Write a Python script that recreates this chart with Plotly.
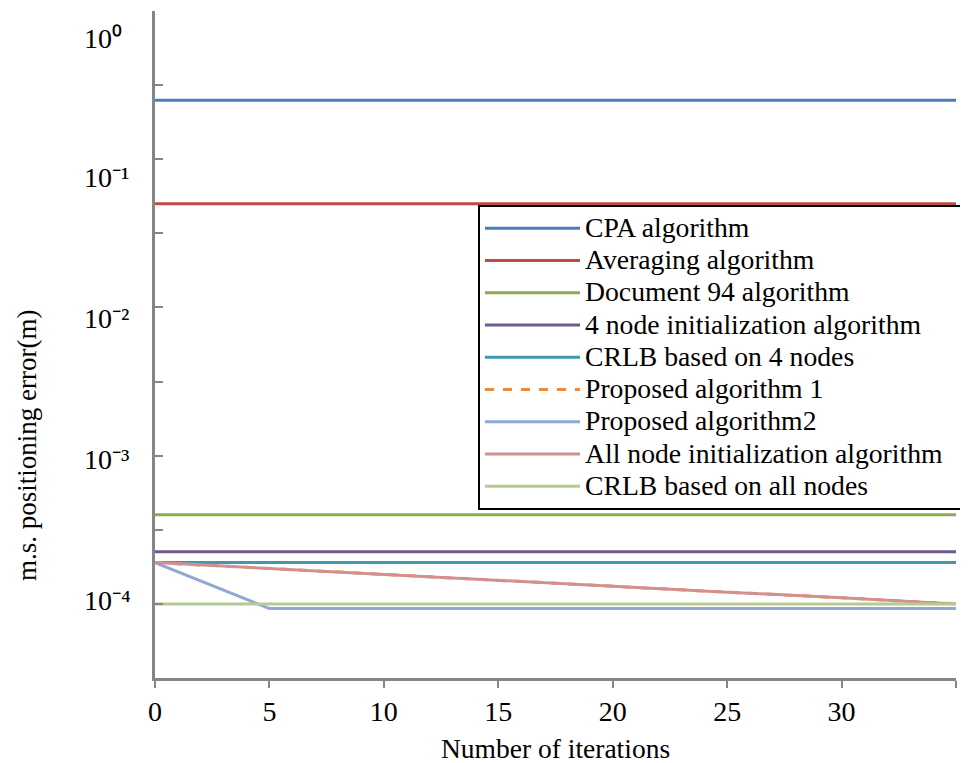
import plotly.graph_objects as go

# ---------------- data ----------------
iterations = [0, 5, 10, 15, 20, 25, 30, 35]

cpa = [0.25, 0.25, 0.25, 0.25, 0.25, 0.25, 0.25, 0.25]
averaging = [0.05, 0.05, 0.05, 0.05, 0.05, 0.05, 0.05, 0.05]
document94 = [4.0e-4, 4.0e-4, 4.0e-4, 4.0e-4, 4.0e-4, 4.0e-4, 4.0e-4, 4.0e-4]
node4_init = [2.25e-4, 2.25e-4, 2.25e-4, 2.25e-4, 2.25e-4, 2.25e-4, 2.25e-4, 2.25e-4]
crlb_4 = [1.9e-4, 1.9e-4, 1.9e-4, 1.9e-4, 1.9e-4, 1.9e-4, 1.9e-4, 1.9e-4]
proposed1 = [1.9e-4, 1.73e-4, 1.58e-4, 1.44e-4, 1.31e-4, 1.20e-4, 1.10e-4, 1.0e-4]
proposed2 = [1.9e-4, 9.3e-5, 9.3e-5, 9.3e-5, 9.3e-5, 9.3e-5, 9.3e-5, 9.3e-5]
allnode_init = [1.9e-4, 1.73e-4, 1.58e-4, 1.44e-4, 1.31e-4, 1.20e-4, 1.10e-4, 1.0e-4]
crlb_all = [1.0e-4, 1.0e-4, 1.0e-4, 1.0e-4, 1.0e-4, 1.0e-4, 1.0e-4, 1.0e-4]

series_names = [
    "CPA algorithm",
    "Averaging algorithm",
    "Document 94 algorithm",
    "4 node initialization algorithm",
    "CRLB based on 4 nodes",
    "Proposed algorithm 1",
    "Proposed algorithm2",
    "All node initialization algorithm",
    "CRLB based on all nodes",
]

x_tick_vals = [0, 5, 10, 15, 20, 25, 30]
x_tick_text = ["0", "5", "10", "15", "20", "25", "30"]
x_end_tick = [35]
y_tick_vals = [1, 10 ** -0.5, 1e-1, 10 ** -1.5, 1e-2, 10 ** -2.5, 1e-3, 10 ** -3.5, 1e-4, 10 ** -4.5]
y_label_text = ["10\u2070", "10\u207b\u00b9", "10\u207b\u00b2", "10\u207b\u00b3", "10\u207b\u2074"]

# ---------------- styling ----------------
# page geometry (the html body adds an 8px margin on the top/left)
W, H = 968, 763
BODY = 8
ML, MR, MT, MB = 155, 12, 11, 85          # in page pixels
PW, PH = W - ML - MR, H - MT - MB

colors = ["#4A7EBB", "#BE4B48", "#8DAA4E", "#6F5A90", "#4198B0",
          "#EE8A3C", "#90A8D4", "#D39090", "#B5CC91"]
dashes = ["solid"] * 5 + ["dash"] + ["solid"] * 3
series_values = [cpa, averaging, document94, node4_init, crlb_4,
                 proposed1, proposed2, allnode_init, crlb_all]

FONT = "Liberation Serif"
AXIS_GREY = "#868686"

fig = go.Figure()
for name, vals, col, dsh in zip(series_names, series_values, colors, dashes):
    label = name
    if name == "All node initialization algorithm":
        label = name + "&nbsp;&nbsp;"
    fig.add_trace(go.Scatter(
        x=iterations, y=vals, mode="lines",
        name='<span style="font-size:27.7px">' + label + "</span>",
        line=dict(color=col, width=3, dash=dsh),
    ))


def px_to_paper_y(py):
    return 1 - (py - MT) / PH


def px_to_paper_x(px):
    return (px - ML) / PW


annotations = []
# y tick labels (placed as in the reference)
label_px_y = [37, 177, 317, 458, 599]
for txt, py in zip(y_label_text, label_px_y):
    annotations.append(dict(
        text=txt, xref="paper", yref="paper",
        x=px_to_paper_x(82), y=px_to_paper_y(py + 1),
        xanchor="left", yanchor="middle", showarrow=False,
        font=dict(family=FONT, size=28, color="black"),
    ))
# y axis title
annotations.append(dict(
    text="m.s. positioning error(m)", xref="paper", yref="paper",
    x=px_to_paper_x(27), y=px_to_paper_y(446),
    xanchor="center", yanchor="middle", textangle=-90, showarrow=False,
    font=dict(family=FONT, size=27, color="black"),
))
# x axis title
annotations.append(dict(
    text="Number of iterations", xref="paper", yref="paper",
    x=0.5, y=px_to_paper_y(748),
    xanchor="center", yanchor="middle", showarrow=False,
    font=dict(family=FONT, size=27.5, color="black"),
))

fig.update_layout(
    width=W - BODY, height=H - BODY,
    margin=dict(l=ML - BODY, r=MR, t=MT - BODY, b=MB, pad=0),
    paper_bgcolor="white", plot_bgcolor="white",
    font=dict(family=FONT, size=27, color="black"),
    showlegend=True,
    legend=dict(
        x=px_to_paper_x(478), y=px_to_paper_y(205),
        xanchor="left", yanchor="top",
        bgcolor="white", bordercolor="black", borderwidth=2,
        font=dict(family=FONT, size=22.5, color="black"),
        itemwidth=95,
        tracegroupgap=0,
    ),
    xaxis=dict(
        range=[0, 35], showgrid=False, zeroline=False,
        showline=True, linecolor=AXIS_GREY, linewidth=2.5,
        ticks="outside", ticklen=7, tickwidth=2, tickcolor=AXIS_GREY,
        tickvals=x_tick_vals, ticktext=x_tick_text,
        tickfont=dict(family=FONT, size=28, color="black"),
        minor=dict(tickvals=x_end_tick, ticks="outside", ticklen=7,
                   tickwidth=2, tickcolor=AXIS_GREY, showgrid=False),
    ),
    yaxis=dict(
        type="log", range=[-4.5, 0], showgrid=False, zeroline=False,
        showline=True, linecolor=AXIS_GREY, linewidth=2.5,
        ticks="inside", ticklen=8, tickwidth=2, tickcolor=AXIS_GREY,
        tickvals=y_tick_vals, showticklabels=False,
    ),
    annotations=annotations,
)

fig.write_html("out.html")
